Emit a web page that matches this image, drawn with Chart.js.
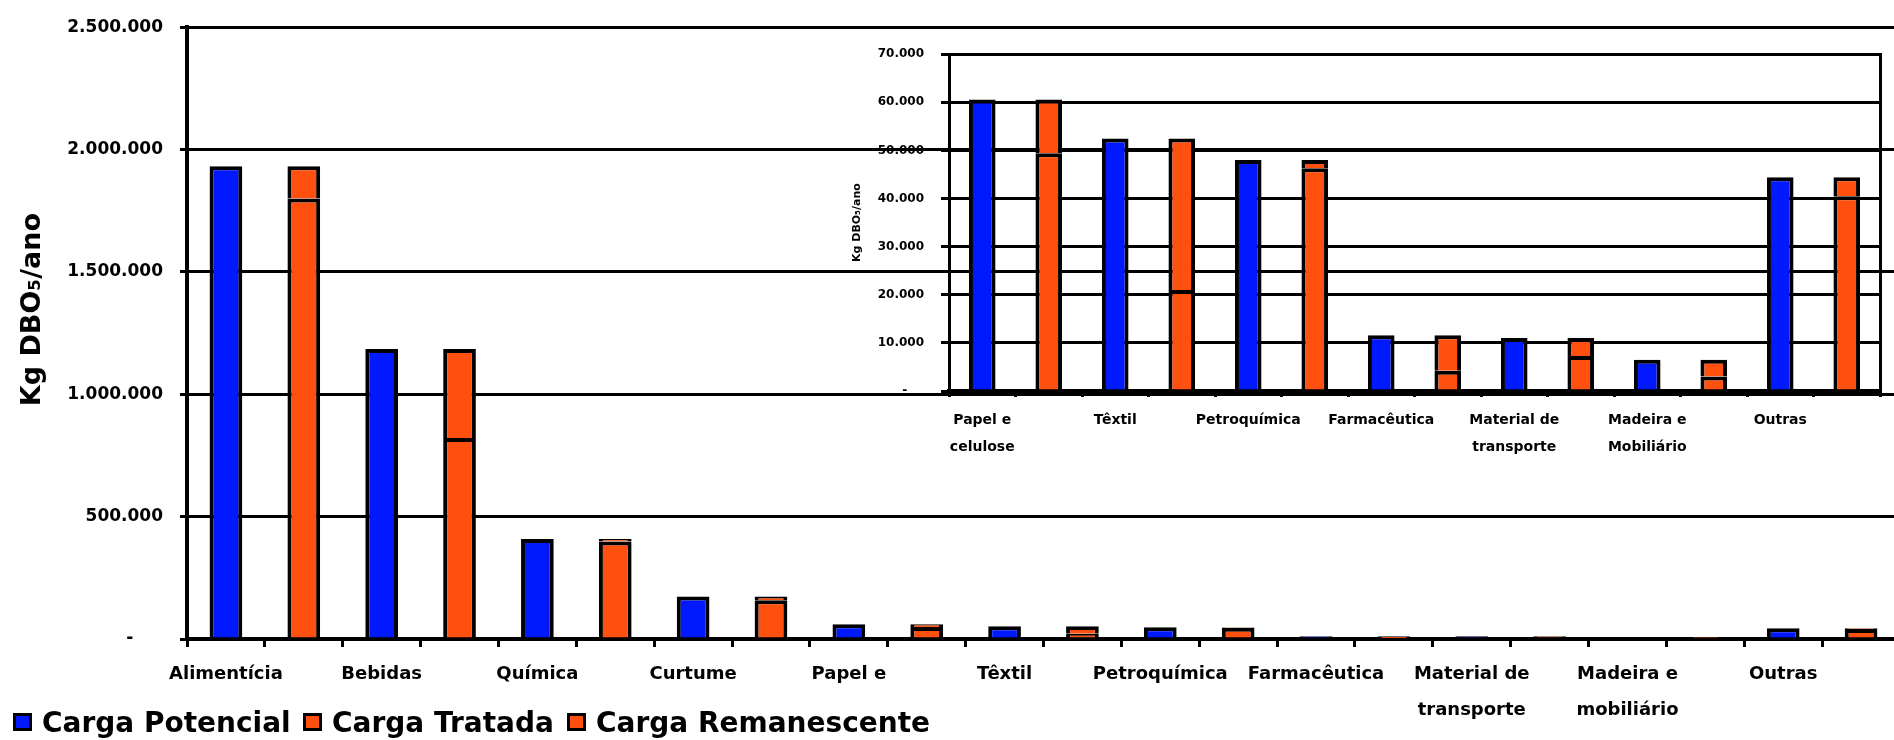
<!DOCTYPE html>
<html>
<head>
<meta charset="utf-8">
<script src="https://cdn.jsdelivr.net/npm/chart.js@4.4.0/dist/chart.umd.min.js"></script>
<style>
  html, body { margin: 0; padding: 0; background: #fff; overflow: hidden; }
  #wrap { position: relative; width: 1894px; height: 740px; overflow: hidden; }
  #main { position: absolute; left: 0; top: 0; }
  #inset { position: absolute; left: 840px; top: 30px; }
  .leg { position: absolute; top: 707px; height: 30px; display: flex; align-items: center;
         font: bold 28px 'DejaVu Sans', sans-serif; color: #000; white-space: nowrap; }
  .leg i { display: inline-block; width: 13px; height: 12px; border: 3px solid #000; margin-right: 10px; }
</style>
</head>
<body>
<div id="wrap">
  <canvas id="main" width="1900" height="740"></canvas>
  <canvas id="inset" width="1045" height="430"></canvas>
  <div class="leg" style="left:13px"><i style="background:#0019ff"></i>Carga Potencial</div>
  <div class="leg" style="left:303px"><i style="background:#ff500f"></i>Carga Tratada</div>
  <div class="leg" style="left:567px"><i style="background:#ff500f"></i>Carga Remanescente</div>
</div>
<script>
const BLUE = '#0019ff';
const ORANGE = '#ff500f';
const FONT = "'DejaVu Sans', sans-serif";

// categorias do grafico principal
const mainCats = ['Alimentícia', 'Bebidas', 'Química', 'Curtume', 'Papel e', 'Têxtil', 'Petroquímica',
  'Farmacêutica', ['Material de', 'transporte'], ['Madeira e', 'mobiliário'], 'Outras'];
// categorias do detalhe (ultimas 7)
const insetCats = [['Papel e', 'celulose'], 'Têxtil', 'Petroquímica', 'Farmacêutica',
  ['Material de', 'transporte'], ['Madeira e', 'Mobiliário'], 'Outras'];

// Kg DBO5/ano
const potencial    = [1932000, 1185000, 409000, 174000, 60600, 52500, 48000, 11600, 11000, 6500, 44400];
const tratada      = [1800000,  821000, 398000, 158000, 49400, 21000, 46300,  4200,  7300, 3000, 40500];
const remanescente = [ 132000,  364000,  11000,  16000, 11200, 31500,  1700,  7400,  3700, 3500,  3900];

const mainTicks = [0, 500000, 1000000, 1500000, 2000000, 2500000];
const insetTicks = [0, 10000, 20000, 30000, 40000, 50000, 60000, 70000];

function fmt(v) {
  return String(v).replace(/\B(?=(\d{3})+(?!\d))/g, '.');
}

// each category takes two slots: blue bar, then orange stacked bar
function slots(cats, pot, trat, rem) {
  const labels = [], p = [], t = [], r = [];
  cats.forEach((c, i) => {
    labels.push(c, '');
    p.push(pot[i], null);
    t.push(null, trat[i]);
    r.push(null, rem[i]);
  });
  return { labels, p, t, r };
}

function datasets(s, bp) {
  const common = { borderColor: '#000', borderWidth: 4, barPercentage: bp, categoryPercentage: 1 };
  return [
    { label: 'Carga Potencial', data: s.p, backgroundColor: BLUE, ...common },
    { label: 'Carga Tratada', data: s.t, backgroundColor: ORANGE, ...common },
    { label: 'Carga Remanescente', data: s.r, backgroundColor: ORANGE, ...common }
  ];
}

const m = slots(mainCats, potencial, tratada, remanescente);
new Chart(document.getElementById('main'), {
  type: 'bar',
  data: { labels: m.labels, datasets: datasets(m, 0.42) },
  options: {
    responsive: false,
    animation: false,
    layout: { padding: { left: 0, right: 0, top: 19, bottom: 0 } },
    plugins: { legend: { display: false }, tooltip: { enabled: false } },
    scales: {
      x: {
        stacked: true,
        grid: { drawOnChartArea: false, color: '#000', lineWidth: 3, tickLength: 8 },
        border: { color: '#000', width: 4 },
        ticks: { autoSkip: false, maxRotation: 0, padding: 9, color: '#000',
                 font: { family: FONT, size: 18, weight: 'bold', lineHeight: 2 } },
        afterFit: s => { s.height = 101; }
      },
      y: {
        stacked: true,
        min: 0, max: 2500000,
        afterBuildTicks: s => { s.ticks = mainTicks.map(v => ({ value: v })); },
        ticks: { padding: 17, color: '#000', font: { family: FONT, size: 17, weight: 'bold' },
                 callback: v => v === 0 ? '-     ' : fmt(v) },
        grid: { color: '#000', lineWidth: 3, tickLength: 7 },
        border: { color: '#000', width: 4 },
        title: { display: true, text: '     Kg DBO₅/ano', color: '#000', padding: { top: 17, bottom: 0 },
                 font: { family: FONT, size: 27, weight: 'bold' } },
        afterFit: s => { s.width = 187; }
      }
    }
  }
});

const n = slots(insetCats, potencial.slice(4), tratada.slice(4), remanescente.slice(4));
new Chart(document.getElementById('inset'), {
  type: 'bar',
  data: { labels: n.labels, datasets: datasets(n, 0.4) },
  options: {
    responsive: false,
    animation: false,
    layout: { padding: { left: 0, right: 5, top: 17, bottom: 0 } },
    plugins: { legend: { display: false }, tooltip: { enabled: false } },
    scales: {
      x: {
        stacked: true,
        grid: { drawOnChartArea: false, color: '#000', lineWidth: 3, tickLength: 6 },
        border: { color: '#000', width: 4 },
        ticks: { autoSkip: false, maxRotation: 0, padding: 10, color: '#000',
                 font: { family: FONT, size: 14, weight: 'bold', lineHeight: 1.93 } },
        afterFit: s => { s.height = 69; }
      },
      y: {
        stacked: true,
        min: 0, max: 70000,
        afterBuildTicks: s => { s.ticks = insetTicks.map(v => ({ value: v })); },
        ticks: { padding: 17, color: '#000', font: { family: FONT, size: 12, weight: 'bold' },
                 callback: v => v === 0 ? '-    ' : fmt(v) },
        grid: { color: '#000', lineWidth: 3, tickLength: 8 },
        border: { color: '#000', width: 3 },
        title: { display: true, text: 'Kg DBO₅/ano', color: '#000', padding: { top: 11, bottom: 0 },
                 font: { family: FONT, size: 11, weight: 'bold' } },
        afterFit: s => { s.width = 109; }
      },
      y2: {
        position: 'right',
        min: 0, max: 70000,
        grid: { display: false, drawTicks: false },
        ticks: { display: false },
        border: { display: true, color: '#000', width: 3 },
        afterFit: s => { s.width = 0; }
      }
    }
  }
});
</script>
</body>
</html>
